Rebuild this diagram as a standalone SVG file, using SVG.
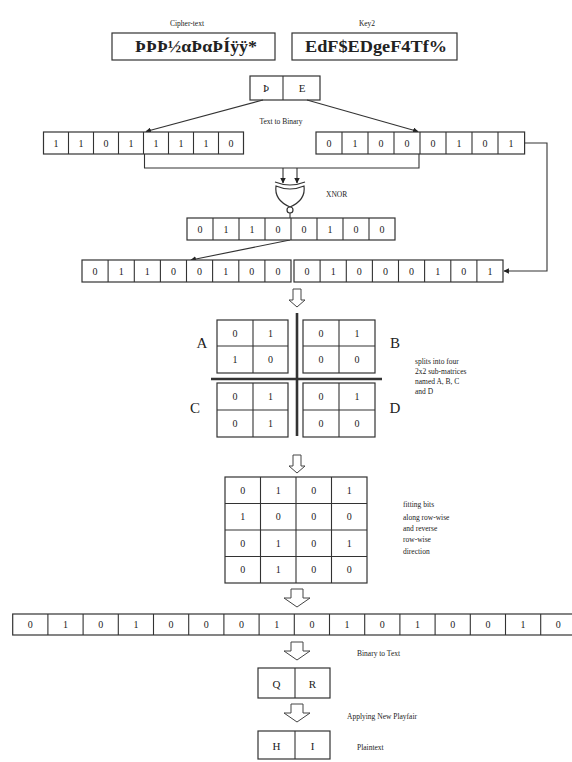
<svg xmlns="http://www.w3.org/2000/svg" width="572" height="762" viewBox="0 0 572 762">
<defs>
<style>
.bx{fill:#fff;stroke:#333;stroke-width:1.2}
.ln{fill:none;stroke:#333;stroke-width:1.1}
.tk{fill:none;stroke:#333;stroke-width:2.6}
.d{font-family:"Liberation Serif",serif;font-size:10px;fill:#222;text-anchor:middle}
.lb{font-family:"Liberation Serif",serif;font-size:7.5px;fill:#222}
.big{font-family:"Liberation Serif",serif;font-size:16px;font-weight:bold;fill:#222}
.ltr{font-family:"Liberation Serif",serif;font-size:15px;fill:#222;text-anchor:middle}
.ch{font-family:"Liberation Serif",serif;font-size:11px;fill:#222;text-anchor:middle}
.ha{fill:#fff;stroke:#444;stroke-width:1}
</style>
<marker id="ar" viewBox="0 0 10 10" refX="9" refY="5" markerWidth="5" markerHeight="5" orient="auto-start-reverse">
<path d="M0,0 L10,5 L0,10 Z" fill="#222"/>
</marker>
</defs>
<rect width="572" height="762" fill="#fff"/>

<g id="cipher">
<text class="lb" x="187" y="26" text-anchor="middle">Cipher-text</text>
<rect class="bx" x="112" y="33" width="163" height="27"/>
<text class="big" x="135" y="52" textLength="122" lengthAdjust="spacingAndGlyphs">ÞÞÞ½αÞαÞÍÿÿ*</text>
</g>
<g id="key2">
<text class="lb" x="367" y="26" text-anchor="middle">Key2</text>
<rect class="bx" x="292" y="33" width="165" height="27"/>
<text class="big" x="305" y="52" textLength="142" lengthAdjust="spacingAndGlyphs">EdF$EDgeF4Tf%</text>
</g>
<g id="pair">
<rect class="bx" x="250" y="76" width="70" height="24"/>
<line class="ln" x1="283" y1="76" x2="283" y2="100"/>
<text class="ch" x="266" y="92">Þ</text>
<text class="ch" x="302" y="92">E</text>
</g>

<g id="connectors">
<line class="ln" x1="263" y1="100" x2="146" y2="131.5" marker-end="url(#ar)"/>
<line class="ln" x1="307" y1="100" x2="418" y2="131.5" marker-end="url(#ar)"/>
<polyline class="ln" points="144.5,132 144.5,168 419,168 419,132"/>
<line class="ln" x1="283" y1="168" x2="283" y2="183" marker-end="url(#ar)"/>
<line class="ln" x1="297" y1="168" x2="297" y2="183" marker-end="url(#ar)"/>
<line class="ln" x1="290" y1="213" x2="290" y2="218"/>
<line class="ln" x1="290" y1="240" x2="191" y2="260" marker-end="url(#ar)"/>
<polyline class="ln" points="524.6,143 547,143 547,271 504,271" marker-end="url(#ar)"/>
<text class="lb" x="281" y="124" text-anchor="middle">Text to Binary</text>
</g>

<g id="row-left">
<rect class="bx" x="43.5" y="132" width="200" height="22"/>
<path class="ln" d="M68.5,132V154M93.5,132V154M118.5,132V154M143.5,132V154M168.5,132V154M193.5,132V154M218.5,132V154"/>
<text class="d" x="56" y="147">1</text><text class="d" x="81" y="147">1</text><text class="d" x="106" y="147">0</text><text class="d" x="131" y="147">1</text>
<text class="d" x="156" y="147">1</text><text class="d" x="181" y="147">1</text><text class="d" x="206" y="147">1</text><text class="d" x="231" y="147">0</text>
</g>
<g id="row-right">
<rect class="bx" x="316" y="132" width="208.6" height="22"/>
<path class="ln" d="M342,132V154M368,132V154M394,132V154M420,132V154M446,132V154M472,132V154M498,132V154"/>
<text class="d" x="329" y="147">0</text><text class="d" x="355" y="147">1</text><text class="d" x="381" y="147">0</text><text class="d" x="407" y="147">0</text>
<text class="d" x="433" y="147">0</text><text class="d" x="459" y="147">1</text><text class="d" x="485" y="147">0</text><text class="d" x="511" y="147">1</text>
</g>

<g id="xnor">
<path class="ln" d="M275,182 Q290,188 305,182"/>
<path class="bx" d="M276,186 Q290,192 304,186 Q306,200 290,207 Q274,200 276,186 Z"/>
<circle class="bx" cx="290" cy="210" r="3"/>
<text class="lb" x="326" y="197">XNOR</text>
</g>

<g id="row-mid">
<rect class="bx" x="187" y="218" width="208" height="22"/>
<path class="ln" d="M213,218V240M239,218V240M265,218V240M291,218V240M317,218V240M343,218V240M369,218V240"/>
<text class="d" x="200" y="233">0</text><text class="d" x="226" y="233">1</text><text class="d" x="252" y="233">1</text><text class="d" x="278" y="233">0</text>
<text class="d" x="304" y="233">0</text><text class="d" x="330" y="233">1</text><text class="d" x="356" y="233">0</text><text class="d" x="382" y="233">0</text>
</g>

<g id="row-long">
<rect class="bx" x="82" y="260" width="209" height="22"/>
<rect class="bx" x="294" y="260" width="209" height="22"/>
<path class="ln" d="M108.1,260V282M134.3,260V282M160.4,260V282M186.5,260V282M212.6,260V282M238.8,260V282M264.9,260V282M320.1,260V282M346.3,260V282M372.4,260V282M398.5,260V282M424.6,260V282M450.8,260V282M476.9,260V282"/>
<text class="d" x="95.1" y="275">0</text><text class="d" x="121.2" y="275">1</text><text class="d" x="147.3" y="275">1</text><text class="d" x="173.4" y="275">0</text>
<text class="d" x="199.6" y="275">0</text><text class="d" x="225.7" y="275">1</text><text class="d" x="251.8" y="275">0</text><text class="d" x="277.9" y="275">0</text>
<text class="d" x="307.1" y="275">0</text><text class="d" x="333.2" y="275">1</text><text class="d" x="359.3" y="275">0</text><text class="d" x="385.4" y="275">0</text>
<text class="d" x="411.6" y="275">0</text><text class="d" x="437.7" y="275">1</text><text class="d" x="463.8" y="275">0</text><text class="d" x="489.9" y="275">1</text>
</g>

<g id="arrow1"><path class="ha" d="M293,289 H301 V300 H305 L297,307 L289,300 H293 Z"/></g>

<g id="quadrants">
<line class="tk" x1="297" y1="313" x2="297" y2="436"/>
<line class="tk" x1="211" y1="379" x2="382" y2="379"/>
</g>
<g id="matA">
<rect class="bx" x="217" y="320" width="71" height="53"/>
<path class="ln" d="M253,320V373M217,346H288"/>
<text class="d" x="235" y="337">0</text><text class="d" x="270.5" y="337">1</text>
<text class="d" x="235" y="363">1</text><text class="d" x="270.5" y="363">0</text>
<text class="ltr" x="202" y="348">A</text>
</g>
<g id="matB">
<rect class="bx" x="303" y="320" width="72" height="53"/>
<path class="ln" d="M339,320V373M303,346H375"/>
<text class="d" x="321" y="337">0</text><text class="d" x="357" y="337">1</text>
<text class="d" x="321" y="363">0</text><text class="d" x="357" y="363">0</text>
<text class="ltr" x="395" y="348">B</text>
</g>
<g id="matC">
<rect class="bx" x="217" y="383" width="71" height="54"/>
<path class="ln" d="M253,383V437M217,410H288"/>
<text class="d" x="235" y="400">0</text><text class="d" x="270.5" y="400">1</text>
<text class="d" x="235" y="427">0</text><text class="d" x="270.5" y="427">1</text>
<text class="ltr" x="195" y="413">C</text>
</g>
<g id="matD">
<rect class="bx" x="303" y="383" width="72" height="54"/>
<path class="ln" d="M339,383V437M303,410H375"/>
<text class="d" x="321" y="400">0</text><text class="d" x="357" y="400">1</text>
<text class="d" x="321" y="427">0</text><text class="d" x="357" y="427">0</text>
<text class="ltr" x="395" y="413">D</text>
</g>
<g id="note1">
<text class="lb" x="415" y="364">splits into four</text>
<text class="lb" x="415" y="374">2x2  sub-matrices</text>
<text class="lb" x="415" y="384">named A, B, C</text>
<text class="lb" x="415" y="394">and D</text>
</g>

<g id="arrow2"><path class="ha" d="M293,455 H301 V466 H305 L297,473 L289,466 H293 Z"/></g>

<g id="mat4">
<rect class="bx" x="225" y="477" width="142" height="106"/>
<path class="ln" d="M260.5,477V583M296,477V583M331.5,477V583M225,503.5H367M225,530H367M225,556.5H367"/>
<text class="d" x="242.75" y="494">0</text><text class="d" x="278.25" y="494">1</text><text class="d" x="313.75" y="494">0</text><text class="d" x="349.25" y="494">1</text>
<text class="d" x="242.75" y="520">1</text><text class="d" x="278.25" y="520">0</text><text class="d" x="313.75" y="520">0</text><text class="d" x="349.25" y="520">0</text>
<text class="d" x="242.75" y="547">0</text><text class="d" x="278.25" y="547">1</text><text class="d" x="313.75" y="547">0</text><text class="d" x="349.25" y="547">1</text>
<text class="d" x="242.75" y="573">0</text><text class="d" x="278.25" y="573">1</text><text class="d" x="313.75" y="573">0</text><text class="d" x="349.25" y="573">0</text>
</g>
<g id="note2">
<text class="lb" x="403" y="507">fitting bits</text>
<text class="lb" x="403" y="520">along row-wise</text>
<text class="lb" x="403" y="531">and reverse</text>
<text class="lb" x="403" y="542">row-wise</text>
<text class="lb" x="403" y="554">direction</text>
</g>

<g id="arrow3"><path class="ha" d="M291,589 H303 V598 H310 L297,607 L284,598 H291 Z"/></g>

<g id="row-out">
<rect class="bx" x="12.7" y="614" width="563.2" height="21"/>
<path class="ln" d="M47.9,614V635M83.1,614V635M118.3,614V635M153.5,614V635M188.7,614V635M223.9,614V635M259.1,614V635M294.3,614V635M329.5,614V635M364.7,614V635M399.9,614V635M435.1,614V635M470.3,614V635M505.5,614V635M540.7,614V635"/>
<text class="d" x="30.3" y="628">0</text><text class="d" x="65.5" y="628">1</text><text class="d" x="100.7" y="628">0</text><text class="d" x="135.9" y="628">1</text>
<text class="d" x="171.1" y="628">0</text><text class="d" x="206.3" y="628">0</text><text class="d" x="241.5" y="628">0</text><text class="d" x="276.7" y="628">1</text>
<text class="d" x="311.9" y="628">0</text><text class="d" x="347.1" y="628">1</text><text class="d" x="382.3" y="628">0</text><text class="d" x="417.5" y="628">1</text>
<text class="d" x="452.7" y="628">0</text><text class="d" x="487.9" y="628">0</text><text class="d" x="523.1" y="628">1</text><text class="d" x="558.3" y="628">0</text>
</g>

<g id="arrow4"><path class="ha" d="M291,642 H303 V651 H310 L297,660 L284,651 H291 Z"/></g>
<text class="lb" x="357" y="656">Binary to Text</text>

<g id="qr">
<rect class="bx" x="258" y="668" width="72" height="30"/>
<line class="ln" x1="295" y1="668" x2="295" y2="698"/>
<text class="ch" x="276.5" y="688">Q</text>
<text class="ch" x="312.5" y="688">R</text>
</g>

<g id="arrow5"><path class="ha" d="M291,704 H303 V713 H310 L297,722 L284,713 H291 Z"/></g>
<text class="lb" x="347" y="719">Applying New Playfair</text>

<g id="hi">
<rect class="bx" x="258" y="731" width="72" height="28"/>
<line class="ln" x1="295" y1="731" x2="295" y2="759"/>
<text class="ch" x="276.5" y="750">H</text>
<text class="ch" x="312.5" y="750">I</text>
</g>
<text class="lb" x="357" y="750">Plaintext</text>
</svg>
